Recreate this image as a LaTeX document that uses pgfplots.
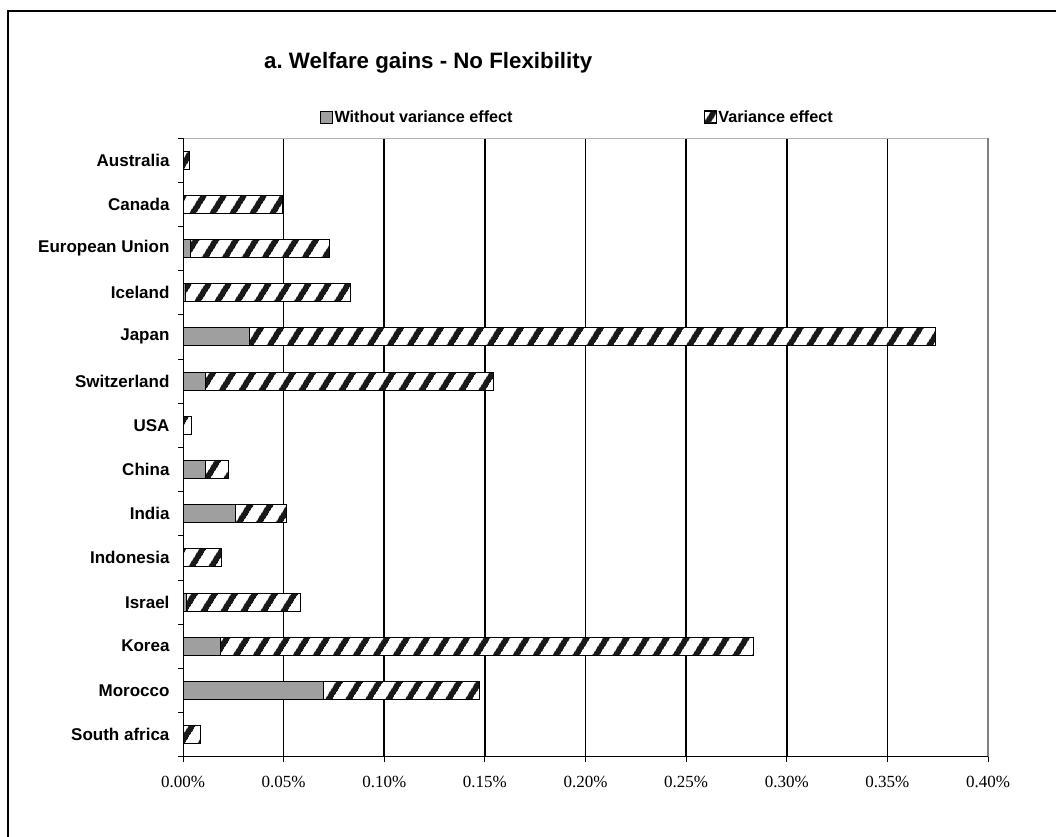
\documentclass[border=0pt]{standalone}
\usepackage{fontspec}
\setmainfont{Liberation Sans}
\newfontfamily\tickfont{Liberation Serif}
\usepackage{pgfplots}
\pgfplotsset{compat=1.18}
\usepackage{pgfplotstable}
\usetikzlibrary{patterns.meta}

% welfare gains in percent: part without the variance effect, and the variance effect
\pgfplotstableread{
idx base var
0  0.0003 0.0027
1  0.0003 0.0492
2  0.0038 0.0692
3  0.0012 0.0818
4  0.0330 0.3407
5  0.0114 0.1431
6  0.0003 0.0040
7  0.0114 0.0113
8  0.0260 0.0252
9  0.0003 0.0186
10 0.0015 0.0570
11 0.0187 0.2647
12 0.0700 0.0772
13 0.0003 0.0085
}\welfare

\begin{document}
\frenchspacing
\begin{tikzpicture}[x=1pt,y=1pt]
\useasboundingbox (0,0) rectangle (1056,836);
\draw[line width=2pt] (8,-20) -- (8,825) -- (1080,825);
\node[anchor=base west, inner sep=0pt, font=\bfseries\fontsize{22.3}{26}\selectfont]
  at (264,767) {a. Welfare gains - No Flexibility};
\begin{axis}[
  at={(183pt,79.3pt)}, anchor=south west,
  scale only axis, width=805pt, height=618.7pt,
  xbar stacked, bar width=18pt,
  xmin=0, xmax=0.4, ymin=-0.5, ymax=13.5, y dir=reverse,
  axis line style={draw=none},
  tick align=outside, major tick length=5pt,
  tick style={black, line width=0.8pt},
  xtick pos=left, ytick pos=left,
  xtick={0,0.05,0.1,0.15,0.2,0.25,0.3,0.35,0.4},
  xticklabels={0.00\%,0.05\%,0.10\%,0.15\%,0.20\%,0.25\%,0.30\%,0.35\%,0.40\%},
  xticklabel style={font=\tickfont\fontsize{17}{20}\selectfont, yshift=-11pt},
  extra x ticks={0.05,0.1,0.15,0.2,0.25,0.3,0.35},
  extra x tick labels={},
  extra x tick style={grid=major, major tick length=0pt},
  major grid style={black, line width=1.6pt},
  ytick={-0.5,0.5,1.5,2.5,3.5,4.5,5.5,6.5,7.5,8.5,9.5,10.5,11.5,12.5,13.5},
  yticklabels={},
  extra y ticks={0,1,2,3,4,5,6,7,8,9,10,11,12,13},
  extra y tick labels={Australia,Canada,European Union,Iceland,Japan,Switzerland,USA,China,India,Indonesia,Israel,Korea,Morocco,South africa},
  extra y tick style={major tick length=0pt, tick style={draw=none},
    yticklabel style={font=\bfseries\fontsize{17}{20}\selectfont, xshift=-10pt}},
  legend columns=2,
  legend style={at={(0.1702,1.034)}, anchor=west, draw=none, fill=none,
    inner sep=0pt, font=\bfseries\fontsize{16.2}{19}\selectfont,
    nodes={inner sep=1.5pt},
    /tikz/every even column/.append style={column sep=190pt}},
  legend image code/.code={\draw[#1, line width=0.8pt] (0pt,-6pt) rectangle (12pt,6pt);},
  after end axis/.code={
    \draw[gray!60, line width=1pt] (axis description cs:0,1) -- (axis description cs:1,1);
    \draw[gray, line width=1.6pt] (axis description cs:1,1) -- (axis description cs:1,0);
    \draw[black, line width=0.9pt] (axis description cs:0,1) -- (axis description cs:0,0) -- (axis description cs:1,0);
  },
]
\addplot[fill=gray!75, draw=black, line width=1pt] table[x=base, y=idx] {\welfare};
\addlegendentry{Without variance effect}
\addplot[preaction={fill=white}, pattern color=black!90,
  pattern={Lines[angle=58, distance=17pt, line width=6pt]},
  draw=black, line width=1pt] table[x=var, y=idx] {\welfare};
\addlegendentry{Variance effect}
\end{axis}
\end{tikzpicture}
\end{document}
